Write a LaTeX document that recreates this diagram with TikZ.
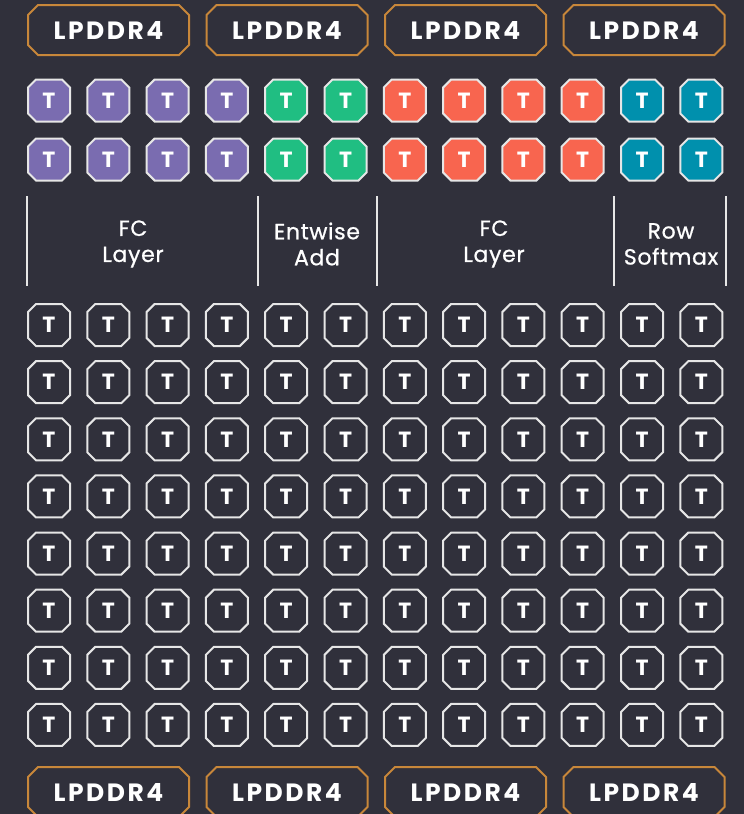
\documentclass[tikz,border=0pt]{standalone}
\usepackage{fontspec}
\setmainfont{Poppins}
\usetikzlibrary{shapes.misc}

\definecolor{bgdark}{HTML}{30303B}
\definecolor{memorange}{HTML}{C8873A}
\definecolor{fcpurple}{HTML}{7A6CB0}
\definecolor{addgreen}{HTML}{20BE82}
\definecolor{fcred}{HTML}{F8654F}
\definecolor{smteal}{HTML}{0090AD}
\definecolor{tileline}{HTML}{E6E6E6}

\begin{document}
\begin{tikzpicture}[
    x=1pt, y=-1pt,
    mem/.style={draw=memorange, line width=2pt, chamfered rectangle, chamfered rectangle xsep=5pt, chamfered rectangle ysep=5pt, minimum width=161pt, minimum height=50pt, inner sep=0pt, text=white, font=\fontsize{25}{30}\selectfont\bfseries\addfontfeatures{LetterSpace=10}},
    tile/.style={draw=tileline, line width=2pt, chamfered rectangle, chamfered rectangle xsep=4pt, chamfered rectangle ysep=4pt, minimum size=42pt, inner sep=0pt, text=white, font=\fontsize{22}{26}\selectfont\bfseries},
    op/.style={align=center, text=white, font=\fontsize{22}{26}\selectfont\addfontfeatures{FakeBold=0.8, LetterSpace=3}},
    divider/.style={draw=tileline, line width=1.5pt}
]

    % Background
    \fill[bgdark] (0,0) rectangle (744,814);
    \clip (0,0) rectangle (744,814);

    % Memory banks, top and bottom
    \foreach \i in {0,...,3} {
        \node[mem] (memtop-\i) at (108.5+178.5*\i, 30) {LPDDR4};
        \node[mem] (membot-\i) at (108.5+178.5*\i, 792) {LPDDR4};
    }

    % Mapped tiles (two rows, coloured by operation)
    \foreach \c/\col in {0/fcpurple, 1/fcpurple, 2/fcpurple, 3/fcpurple, 4/addgreen, 5/addgreen,
                         6/fcred, 7/fcred, 8/fcred, 9/fcred, 10/smteal, 11/smteal} {
        \node[tile, fill=\col] (map-0-\c) at (49+59.3*\c, 100.5) {T};
        \node[tile, fill=\col] (map-1-\c) at (49+59.3*\c, 159.5) {T};
    }

    % Operation labels
    \node[op] (fc1) at (133, 244) {FC\\Layer};
    \node[op] (add) at (317, 244) {Entwise\\Add};
    \node[op] (fc2) at (494, 244) {FC\\Layer};
    \node[op] (softmax) at (671, 244) {Row\\Softmax};

    \foreach \x in {27, 258, 377, 614, 726}
        \draw[divider] (\x, 196) -- (\x, 286);

    % Free tiles
    \foreach \r in {0,...,7}
        \foreach \c in {0,...,11}
            \node[tile] (tile-\r-\c) at (49+59.3*\c, 325+57.14*\r) {T};

\end{tikzpicture}
\end{document}
